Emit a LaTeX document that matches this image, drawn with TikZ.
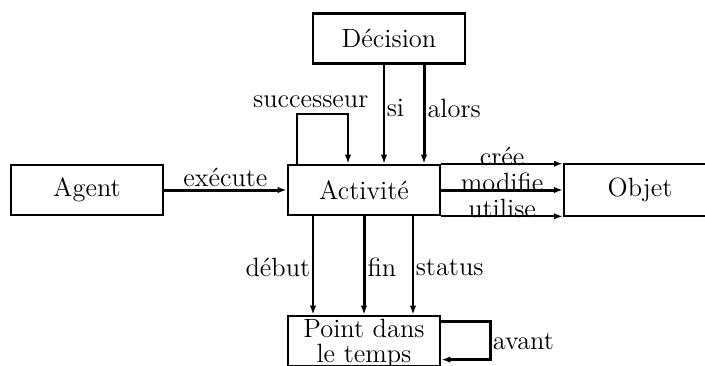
\documentclass[tikz,border=0pt]{standalone}
\usetikzlibrary{calc,arrows.meta}
\begin{document}
\begin{tikzpicture}[x=0.5pt,y=-0.5pt,
  every node/.style={font=\fontsize{13.2}{15}\selectfont},
  box/.style={draw,line width=1.1pt,rectangle,inner sep=0pt,minimum width=76pt,minimum height=25pt,align=center},
  thin/.style={line width=0.8pt},
  thick/.style={line width=1.5pt},
  arr/.style={-{Latex[length=4.5pt,width=3.2pt]}},
  lbl/.style={inner sep=1pt}]
\useasboundingbox (0,0) rectangle (705,365);

% boxes
\node[box] (agent) at (87,190) {Agent};
\node[box,line width=1.3pt] (act) at (364,190) {Activité};
\node[box] (dec) at (389,38.5) {Décision};
\node[box,minimum height=26pt] (obj) at (640,190) {Objet};
\node[box,line width=1.4pt,text depth=0pt] (pt) at (364,341) {Point dans\\[-2.5pt]le temps};

% attachment points along the activity box
\coordinate (siA) at ($(act.north)+(20,0)$);
\coordinate (alA) at ($(act.north)+(60,0)$);
\coordinate (suA) at ($(act.north west)+(10,0)$);
\coordinate (suB) at ($(act.north)+(-16,0)$);
\coordinate (deA) at ($(act.south)+(-51,0)$);
\coordinate (stA) at ($(act.south)+(49,0)$);
\coordinate (avA) at ($(pt.north east)+(0,7)$);
\coordinate (avB) at ($(pt.north east)+(0,45)$);

% agent executes activity
\draw[thick,arr] (agent.east) -- node[lbl,above] {exécute} (act.west);

% decision into activity
\draw[thin,arr] (siA |- dec.south) -- node[lbl,right,pos=0.44] {si} (siA);
\draw[thick,arr] (alA |- dec.south) -- node[lbl,right,pos=0.44] {alors} (alA);

% successor loop
\draw[line width=1.2pt,arr] (suA) -- ++(0,-50) coordinate (sc) -| (suB);
\node[lbl,anchor=base] (succ) at ($(sc)+(14,-6)$) {successeur};

% activity to object
\draw[line width=1.1pt,arr] (act.north east) -- node[lbl,above=-2.5pt] {crée} (act.north east -| obj.west);
\draw[thick,arr] (act.east) -- node[lbl,above=-2.5pt] {modifie} (obj.west);
\draw[line width=1.1pt,arr] (act.south east) -- node[lbl,above=-2.5pt] {utilise} (act.south east -| obj.west);

% activity to points in time
\draw[thin,arr] (deA) -- node[lbl,left,pos=0.52] {début} (deA |- pt.north);
\draw[thick,arr] (act.south) -- node[lbl,right,pos=0.52] {fin} (pt.north);
\draw[thin,arr] (stA) -- node[lbl,right,pos=0.52] {status} (stA |- pt.north);

% before loop
\draw[line width=1.2pt,arr] (avA) -- ++(49,0) coordinate (av) -- ++(0,38) -- (avB);
\node[lbl,right] (avant) at ($(av)+(0,20)$) {avant};
\end{tikzpicture}
\end{document}
